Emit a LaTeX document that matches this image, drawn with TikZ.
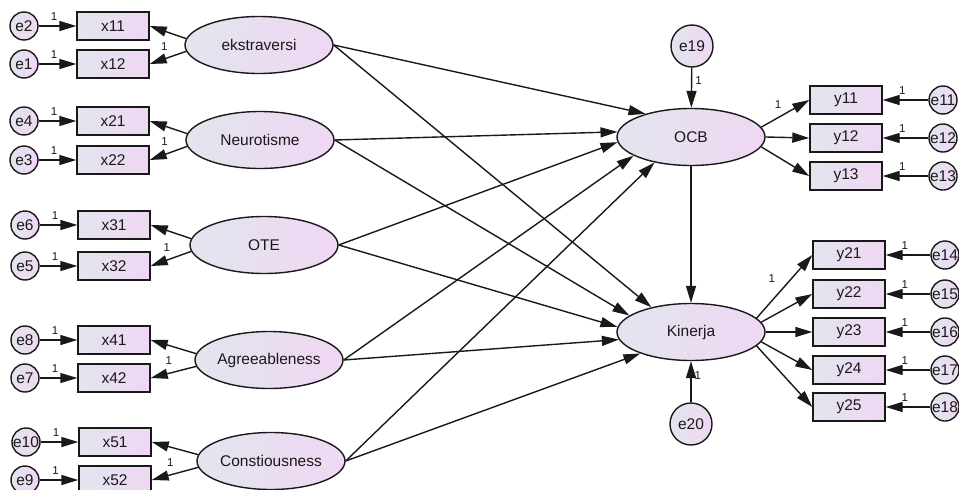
\documentclass[tikz,border=0pt]{standalone}
\usepackage{fontspec}
\setmainfont{Liberation Sans}
\usetikzlibrary{arrows.meta,shapes.geometric}
\definecolor{shl}{RGB}{226,229,238}
\definecolor{shr}{RGB}{240,215,243}
\definecolor{ink}{RGB}{25,25,25}
\begin{document}
\begin{tikzpicture}[x=1pt,y=-1pt,
 every node/.style={font=\fontsize{15.5}{17}\selectfont, text=ink},
 lat/.style={ellipse, draw=ink, line width=1.4pt, left color=shl, right color=shr, minimum width=148pt, minimum height=57pt, inner sep=0pt},
 obs/.style={rectangle, draw=ink, line width=1.4pt, left color=shl, right color=shr, minimum width=72pt, minimum height=28pt, inner sep=0pt},
 err/.style={circle, draw=ink, line width=1.4pt, left color=shl, right color=shr, minimum size=28pt, inner sep=0pt},
 bigerr/.style={err, minimum size=42pt},
 conn/.style={draw=ink, line width=1.4pt, -{Triangle[length=17pt,width=10pt]}},
 one/.style={font=\fontsize{11.5}{12}\selectfont, inner sep=0pt},
]
\useasboundingbox (0,0) rectangle (959,490);

% left latent variables
\node[lat] (ek) at (259,45) {ekstraversi};
\node[lat] (ne) at (260,140) {Neurotisme};
\node[lat] (ot) at (264,245) {OTE};
\node[lat] (ag) at (269,360) {Agreeableness};
\node[lat] (co) at (271,461) {Constiousness};

% left indicators
\node[obs] (x11) at (113,26) {x11};
\node[obs] (x12) at (113,64) {x12};
\node[obs] (x21) at (113,121) {x21};
\node[obs] (x22) at (113,160) {x22};
\node[obs] (x31) at (114,225) {x31};
\node[obs] (x32) at (114,266) {x32};
\node[obs] (x41) at (114,340) {x41};
\node[obs] (x42) at (114,378) {x42};
\node[obs] (x51) at (115,442) {x51};
\node[obs] (x52) at (115,480) {x52};

% left errors
\node[err] (e2) at (24,26) {e2};
\node[err] (e1) at (24,64) {e1};
\node[err] (e4) at (24,121) {e4};
\node[err] (e3) at (24,160) {e3};
\node[err] (e6) at (25,225) {e6};
\node[err] (e5) at (25,266) {e5};
\node[err] (e8) at (25,340) {e8};
\node[err] (e7) at (25,378) {e7};
\node[err] (e10) at (26,442) {e10};
\node[err] (e9) at (25,480) {e9};

% right latent variables
\node[lat] (ocb) at (691,137) {OCB};
\node[lat] (kin) at (691,332) {Kinerja};
\node[bigerr] (e19) at (692,46) {e19};
\node[bigerr] (e20) at (691,424) {e20};

% right indicators
\node[obs] (y11) at (846,100) {y11};
\node[obs] (y12) at (846,138) {y12};
\node[obs] (y13) at (846,176) {y13};
\node[obs] (y21) at (849,255) {y21};
\node[obs] (y22) at (849,294) {y22};
\node[obs] (y23) at (849,332) {y23};
\node[obs] (y24) at (849,370) {y24};
\node[obs] (y25) at (849,407) {y25};

% right errors
\node[err] (e11) at (943,100) {e11};
\node[err] (e12) at (943,138) {e12};
\node[err] (e13) at (943,176) {e13};
\node[err] (e14) at (945,255) {e14};
\node[err] (e15) at (945,294) {e15};
\node[err] (e16) at (945,332) {e16};
\node[err] (e17) at (945,370) {e17};
\node[err] (e18) at (945,407) {e18};

% left error arrows
\foreach \e/\x in {e2/x11,e1/x12,e4/x21,e3/x22,e6/x31,e5/x32,e8/x41,e7/x42,e10/x51,e9/x52}{
  \draw[conn] (\e) -- node[one, pos=0.41, above=5pt] {1} (\x);
}

% left loadings
\foreach \l/\a/\b in {ek/x11/x12,ne/x21/x22,ot/x31/x32,ag/x41/x42,co/x51/x52}{
  \draw[conn] (\l.175) -- (\a.east);
  \draw[conn] (\l.185) -- node[one, pos=0.6, above=8pt] {1} (\b.east);
}

% structural paths
\draw[conn] (ek.east) -- (ocb.153);
\draw[conn] (ek.east) -- (kin.148);
\draw[conn] (ne.east) -- (ocb.176);
\draw[conn] (ne.east) -- (kin.165);
\draw[conn] (ot.east) -- (ocb.184);
\draw[conn] (ot.east) -- (kin.176);
\draw[conn] (ag.east) -- (ocb.198);
\draw[conn] (ag.east) -- (kin.186);
\draw[conn] (co.east) -- (ocb.215);
\draw[conn] (co.east) -- (kin.203);
\draw[conn] (ocb) -- (kin);

% disturbances
\draw[conn] (e19) -- node[one, pos=0.31, right=3pt] {1} (ocb);
\draw[conn] (e20) -- node[one, pos=0.66, right=3pt] {1} (kin);

% right loadings
\draw[conn] (ocb.8) -- node[one, pos=0.35, above=8pt] {1} (y11.west);
\draw[conn] (ocb.0) -- (y12.west);
\draw[conn] (ocb.352) -- (y13.west);
\draw[conn] (kin.12) -- node[one, pos=0.45, above left=6pt] {1} (y21.west);
\draw[conn] (kin.8) -- (y22.west);
\draw[conn] (kin.0) -- (y23.west);
\draw[conn] (kin.352) -- (y24.west);
\draw[conn] (kin.348) -- (y25.west);

% right error arrows
\foreach \e/\y in {e11/y11,e12/y12,e13/y13,e14/y21,e15/y22,e16/y23,e17/y24,e18/y25}{
  \draw[conn] (\e) -- node[one, pos=0.57, above=5pt] {1} (\y);
}
\end{tikzpicture}
\end{document}
